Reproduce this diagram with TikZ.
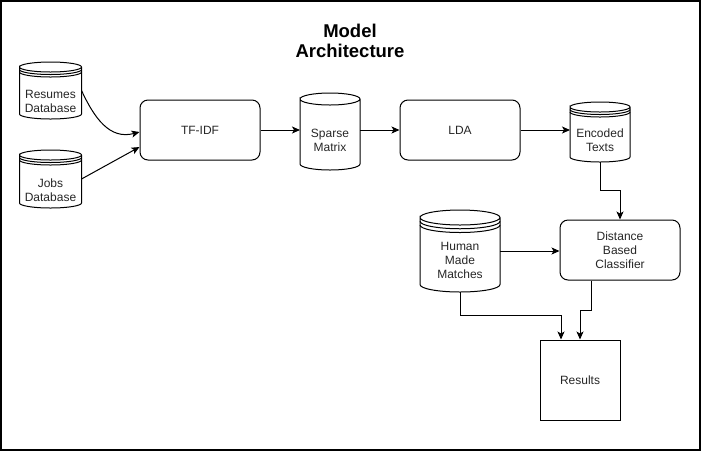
\documentclass[tikz,border=0pt]{standalone}
\usepackage{fontspec}
\setmainfont{Liberation Sans}
\usetikzlibrary{arrows.meta}

\begin{document}
\begin{tikzpicture}[
		x=1pt, y=1pt,
		caixas/.style={
			draw,
			rectangle,
			rounded corners=8pt,
			minimum width=120pt,
			minimum height=60pt,
			align=center,
			line width=1pt,
			text=black!85,
			font=\fontsize{12}{14}\selectfont
		},
		banco/.style={
			rectangle,
			outer sep=0pt,
			inner sep=0pt
		},
		texto/.style={
			align=center,
			text=black!85,
			font=\fontsize{12}{14}\selectfont
		},
		seta/.style={
			-{Stealth[length=8pt, width=7pt, inset=2pt]},
			line width=1pt
		}
		]
		
		\useasboundingbox (0,0) rectangle (701,-451);
		\draw[line width=2pt] (1,-1) rectangle (700,-450);
		
		\node[align=center, font=\bfseries\fontsize{18.5}{20}\selectfont] (titulo) at (350,-41) {Model\\Architecture};
		
		\node[banco, minimum width=62pt, minimum height=57pt, label={[texto, yshift=-11pt]center:Resumes\\Database}] (Res) at (50.5,-90.5) {};
		\node[banco, minimum width=62pt, minimum height=58pt, label={[texto, yshift=-11pt]center:Jobs\\Database}] (Jobs) at (50.5,-179) {};
		\node[banco, minimum width=60pt, minimum height=77pt, label={[texto, yshift=-9pt]center:Sparse\\Matrix}] (Sparse) at (330,-131.5) {};
		\node[banco, minimum width=60pt, minimum height=60pt, label={[texto, yshift=-8pt]center:Encoded\\Texts}] (Enc) at (600,-132) {};
		\node[banco, minimum width=80pt, minimum height=82pt, label={[texto, yshift=-9pt]center:Human\\Made\\Matches}] (Hum) at (460,-251) {};
		
		\node[caixas] (tfidf) at (200,-130) {TF-IDF};
		\node[caixas] (lda) at (460,-130) {LDA};
		\node[caixas] (dbc) at (620,-250) {Distance\\Based\\Classifier};
		\node[caixas, sharp corners, minimum width=80pt, minimum height=80pt] (Results) at (580,-380) {Results};
		
		%Cilindros
		\foreach \ds/\rx/\ry in {Res/31/5, Jobs/31/5, Sparse/30/6, Enc/30/5, Hum/40/7.5}{
			\draw[line width=1pt] ([yshift=-\ry]\ds.north west) arc[start angle=180, end angle=-180, x radius=\rx, y radius=\ry]
				-- ([yshift=\ry]\ds.south west) arc[start angle=180, end angle=360, x radius=\rx, y radius=\ry]
				-- ([yshift=-\ry]\ds.north east);
		}
		\foreach \ds/\rx/\ry in {Res/31/5, Jobs/31/5, Enc/30/5, Hum/40/7.5}{
			\draw[line width=1pt] ([yshift=-1.5*\ry]\ds.north west) arc[start angle=180, end angle=360, x radius=\rx, y radius=\ry]
				([yshift=-2*\ry]\ds.north west) arc[start angle=180, end angle=360, x radius=\rx, y radius=\ry];
		}
		
		%Setas
		\draw[seta] (Res.east) to[out=-65, in=195, looseness=1.1] ([yshift=-2pt]tfidf.west);
		\draw[seta] (Jobs.east) -- ([yshift=-17pt]tfidf.west);
		\draw[seta] (tfidf.east) -- (tfidf.east -| Sparse.west);
		\draw[seta] (Sparse.east |- lda.west) -- (lda.west);
		\draw[seta] (lda.east) -- (lda.east -| Enc.west);
		\draw[seta] (Enc.south) -- ++(0,-28) -| (dbc.north);
		\draw[seta] (Hum.east) -- (Hum.east -| dbc.west);
		\draw[seta] (Hum.south) -- ++(0,-23) -| ([xshift=-19pt]Results.north);
		\draw[seta] ([xshift=-29pt]dbc.south) -- ++(0,-30) -| (Results.north);
		
	\end{tikzpicture}
\end{document}
